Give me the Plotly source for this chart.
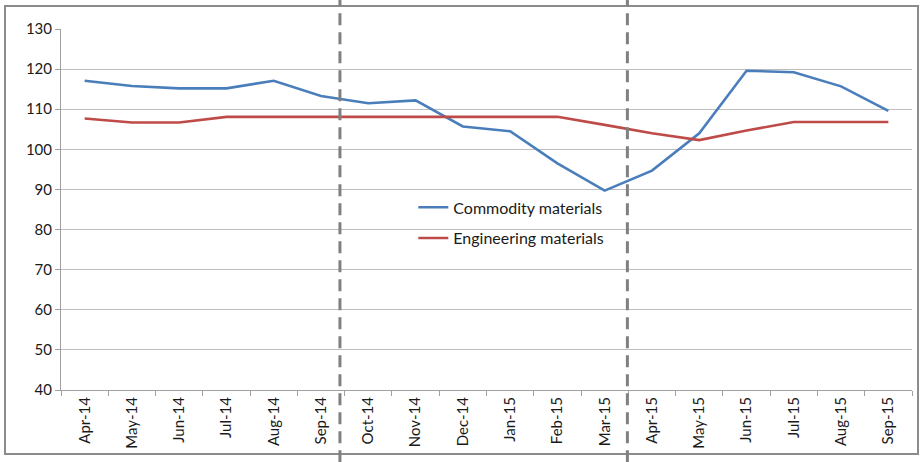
import plotly.graph_objects as go

months = ["Apr-14", "May-14", "Jun-14", "Jul-14", "Aug-14", "Sep-14", "Oct-14", "Nov-14", "Dec-14",
          "Jan-15", "Feb-15", "Mar-15", "Apr-15", "May-15", "Jun-15", "Jul-15", "Aug-15", "Sep-15"]
commodity = [117.1, 115.8, 115.2, 115.2, 117.1, 113.3, 111.5, 112.2, 105.7,
             104.5, 96.5, 89.7, 94.7, 104.0, 119.6, 119.2, 115.7, 109.6]
engineering = [107.7, 106.7, 106.7, 108.1, 108.1, 108.1, 108.1, 108.1, 108.1,
               108.1, 108.1, 106.1, 104.0, 102.3, 104.7, 106.8, 106.8, 106.8]
divider_positions = [5.4, 11.48]

FONT = "Lato"

fig = go.Figure()
fig.add_trace(go.Scatter(x=months, y=commodity, mode="lines", name="Commodity materials",
                         legendgroup="a", line=dict(color="#4a7ebb", width=2.6)))
fig.add_trace(go.Scatter(x=months, y=engineering, mode="lines", name="Engineering materials",
                         legendgroup="b", line=dict(color="#be4b48", width=2.6)))

shapes = []
for xp in divider_positions:
    shapes.append(dict(type="line", xref="x", yref="paper", x0=xp, x1=xp, y0=-0.2, y1=1.085,
                       line=dict(color="#808080", width=3, dash="12px,7px"), layer="above"))
# outer frame
shapes.append(dict(type="rect", xref="paper", yref="paper",
                   x0=(5 - 61) / 851, x1=(918 - 61) / 851, y0=(390 - 454) / 361, y1=(390 - 6) / 361,
                   line=dict(color="#8c8c8c", width=2), layer="below"))

fig.update_layout(
    width=922, height=462,
    margin=dict(l=61, r=10, t=29, b=72),
    paper_bgcolor="white", plot_bgcolor="white",
    font=dict(family=FONT, size=15, color="#1a1a1a"),
    shapes=shapes,
    showlegend=True,
    legend=dict(x=0.414, y=0.553, xanchor="left", yanchor="top", bgcolor="rgba(0,0,0,0)",
                traceorder="grouped", tracegroupgap=7, font=dict(size=16, family=FONT)),
    xaxis=dict(type="category", tickangle=-90, showgrid=False, showline=True, linecolor="#a0a0a0",
               linewidth=1, ticks="outside", tickson="boundaries", ticklen=5, tickcolor="#a0a0a0",
               range=[-0.5, 17.5], tickfont=dict(size=15, family=FONT), fixedrange=True),
    yaxis=dict(range=[40, 130], dtick=10, tick0=40, showgrid=True, gridcolor="#bdbdbd", gridwidth=1,
               showline=True, linecolor="#a0a0a0", ticks="outside", ticklen=5, tickcolor="#a0a0a0",
               zeroline=False, tickfont=dict(size=15, family=FONT)),
)

fig.write_html("out.html")
